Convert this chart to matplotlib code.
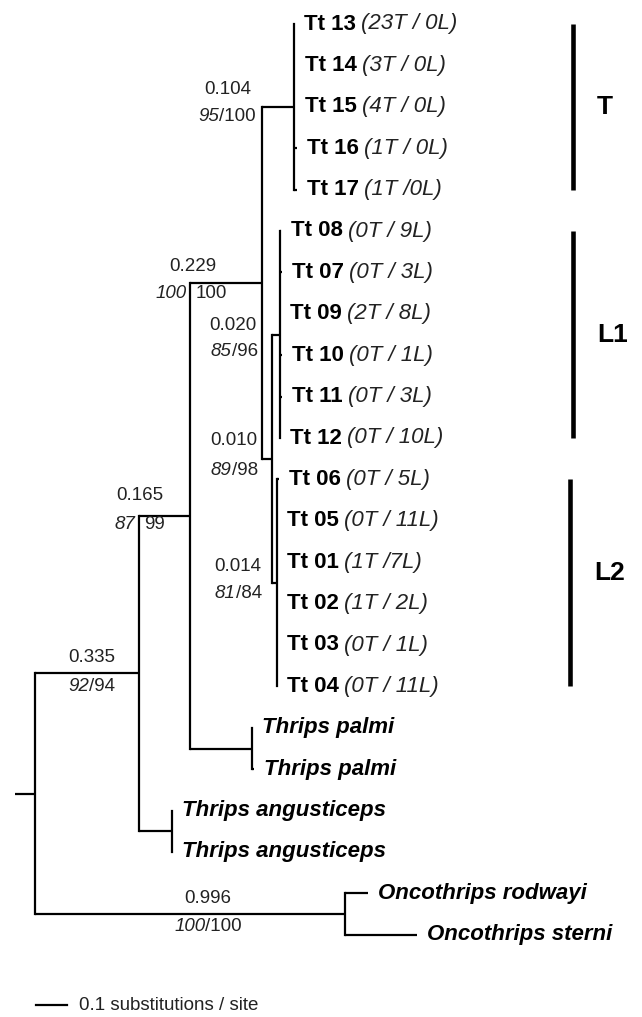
import matplotlib
matplotlib.use("Agg")
import matplotlib.pyplot as plt

plt.rcParams['font.family'] = ['Liberation Sans', 'DejaVu Sans']

# ---- data ----
leaf_names = ["Tt 13", "Tt 14", "Tt 15", "Tt 16", "Tt 17",
              "Tt 08", "Tt 07", "Tt 09", "Tt 10", "Tt 11", "Tt 12",
              "Tt 06", "Tt 05", "Tt 01", "Tt 02", "Tt 03", "Tt 04",
              "Thrips palmi", "Thrips palmi",
              "Thrips angusticeps", "Thrips angusticeps",
              "Oncothrips rodwayi", "Oncothrips sterni"]
leaf_counts = ["(23T / 0L)", "(3T / 0L)", "(4T / 0L)", "(1T / 0L)", "(1T /0L)",
               "(0T / 9L)", "(0T / 3L)", "(2T / 8L)", "(0T / 1L)", "(0T / 3L)", "(0T / 10L)",
               "(0T / 5L)", "(0T / 11L)", "(1T /7L)", "(1T / 2L)", "(0T / 1L)", "(0T / 11L)",
               "", "", "", "", "", ""]
# terminal branch lengths (substitutions / site)
leaf_len = [0.0, 0.004, 0.004, 0.01, 0.01,
            0.004, 0.006, 0.0, 0.006, 0.006, 0.0,
            0.006, 0.0, 0.0, 0.0, 0.0, 0.0,
            0.0, 0.006, 0.0, 0.0, 0.075, 0.232]

# internal nodes: children (leaf index or node name) and stem length
children = {
    "root": ["A", "onco"],
    "A": ["B", "angust"],
    "B": ["C", "palmi"],
    "C": ["T", "L"],
    "T": [0, 1, 2, 3, 4],
    "L": ["L1", "L2"],
    "L1": [5, 6, 7, 8, 9, 10],
    "L2": [11, 12, 13, 14, 15, 16],
    "palmi": [17, 18],
    "angust": [19, 20],
    "onco": [21, 22],
}
node_len = {"root": 0.064, "A": 0.335, "B": 0.165, "C": 0.229, "T": 0.104,
            "L": 0.032, "L1": 0.027, "L2": 0.017, "palmi": 0.198,
            "angust": 0.105, "onco": 0.996}

# branch labels: length above, support (italic / plain) below
len_label = {"T": "0.104", "C": "0.229", "L1": "0.020", "L": "0.010",
             "L2": "0.014", "B": "0.165", "A": "0.335", "onco": "0.996"}
sup_it = {"T": "95", "C": "100", "L1": "85", "L": "89", "L2": "81",
          "B": "87", "A": "92", "onco": "100"}
sup_rm = {"T": "/100", "C": "100", "L1": "/96", "L": "/98", "L2": "/84",
          "B": "99", "A": "/94", "onco": "/100"}

clade_names = ["T", "L1", "L2"]
clade_span = [(0, 4), (5, 10), (11, 16)]

scale_len = 0.1
scale_text = "0.1 substitutions / site"

# ---- figure ----
W, H = 642, 1017
fig = plt.figure(figsize=(W / 100, H / 100), dpi=100)
ax = fig.add_axes([0, 0, 1, 1])
ax.axis('off')
px_per_unit = 311.0
x_origin = 35.0
y_top, y_step = 24.0, 41.4
ax.set_xlim(-x_origin / px_per_unit, (W - x_origin) / px_per_unit)
ax.set_ylim((H - y_top) / y_step, -y_top / y_step)

LW = 1.6
node_pos = {}
tips = {}


def draw(node, parent_x):
    x = parent_x + node_len[node]
    ys = []
    for ch in children[node]:
        if isinstance(ch, int):
            tx = x + leaf_len[ch]
            if leaf_len[ch] > 0:
                ax.plot([x, tx], [ch, ch], color='black', lw=LW, solid_capstyle='butt')
            tips[ch] = tx
            ys.append(ch)
        else:
            ys.append(draw(ch, x))
    ax.plot([x, x], [ys[0], ys[-1]], color='black', lw=LW, solid_capstyle='projecting')
    y = (ys[0] + ys[-1]) / 2
    ax.plot([parent_x, x], [y, y], color='black', lw=LW, solid_capstyle='butt')
    node_pos[node] = (parent_x, x, y)
    return y


draw("root", -node_len["root"])


def rich(anchor, pieces, off, ha='left', gap=0, size=13.5):
    first = prev = None
    for txt, st in pieces:
        kw = dict(fontsize=size, va='center', ha='left', textcoords='offset pixels',
                  annotation_clip=False)
        kw.update(st)
        if prev is None:
            a = ax.annotate(txt, xy=anchor, xycoords='data', xytext=off, **kw)
            first = a
        else:
            a = ax.annotate(txt, xy=(1, 0.5), xycoords=prev, xytext=(gap, 0), **kw)
        prev = a
    if ha != 'left':
        r = fig.canvas.get_renderer()
        w = prev.get_window_extent(r).x1 - first.get_window_extent(r).x0
        s = w if ha == 'right' else w / 2
        first.set_position((off[0] - s, off[1]))
    return first


IT = dict(style='italic', color='#222222')
RM = dict(color='#222222')
BF = dict(weight='bold', color='black')
BI = dict(weight='bold', style='italic', color='black')

# leaf labels
for i, name in enumerate(leaf_names):
    anchor = (tips[i], i)
    if leaf_counts[i]:
        rich(anchor, [(name, BF), (leaf_counts[i], IT)], (10, 0), gap=5, size=16)
    else:
        rich(anchor, [(name, BI)], (10, 0), size=16)

# branch labels: (ha, top dx, top dy, support dx, support dy), offsets from (parent x, node y)
label_layout = {
    "T": ('right', -10, 17, -6, -10),
    "L1": ('right', -15, 9, -14, -17),
    "L": ('right', -4, 18, -4, -12),
    "L2": ('right', -10, 16, -10, -11),
    "A": ('center', 57, 16, 57, -13),
    "onco": ('center', 173, 16, 173, -12),
}
for node, (ha, tdx, tdy, sdx, sdy) in label_layout.items():
    px, x, y = node_pos[node]
    ax.annotate(len_label[node], xy=(px, y), xytext=(tdx, tdy), textcoords='offset pixels',
                ha=ha, va='center', fontsize=13.5, color='#222222')
    rich((px, y), [(sup_it[node], IT), (sup_rm[node], RM)], (sdx, sdy), ha=ha)

# split labels around the vertical line
split_layout = {"C": (2, 16, -11), "B": (1, 20, -9)}
for node, (tdx, tdy, sdy) in split_layout.items():
    px, x, y = node_pos[node]
    ax.annotate(len_label[node], xy=(px, y), xytext=(tdx, tdy), textcoords='offset pixels',
                ha='center', va='center', fontsize=13.5, color='#222222')
    ax.annotate(sup_it[node], xy=(px, y), xytext=(-4, sdy), textcoords='offset pixels',
                ha='right', va='center', fontsize=13.5, **IT)
    ax.annotate(sup_rm[node], xy=(px, y), xytext=(5, sdy), textcoords='offset pixels',
                ha='left', va='center', fontsize=13.5, **RM)

# clade bars
bar_x = [1.73, 1.73, 1.72]
bar_dy = [0, 0, 10]
for name, (a, b), bx, dy in zip(clade_names, clade_span, bar_x, bar_dy):
    ax.plot([bx, bx], [a, b], color='black', lw=3.3, solid_capstyle='butt')
    ax.annotate(name, xy=(bx, (a + b) / 2), xytext=(24, dy), textcoords='offset pixels',
                ha='left', va='center', fontsize=19, weight='bold')

# scale bar
sb_y = 23.7
ax.plot([0.003, 0.003 + scale_len], [sb_y, sb_y], color='black', lw=LW)
ax.annotate(scale_text, xy=(0.003 + scale_len, sb_y), xytext=(12, 0),
            textcoords='offset pixels', ha='left', va='center', fontsize=13.5, color='#222222')

fig.savefig("out.png", dpi=100)
